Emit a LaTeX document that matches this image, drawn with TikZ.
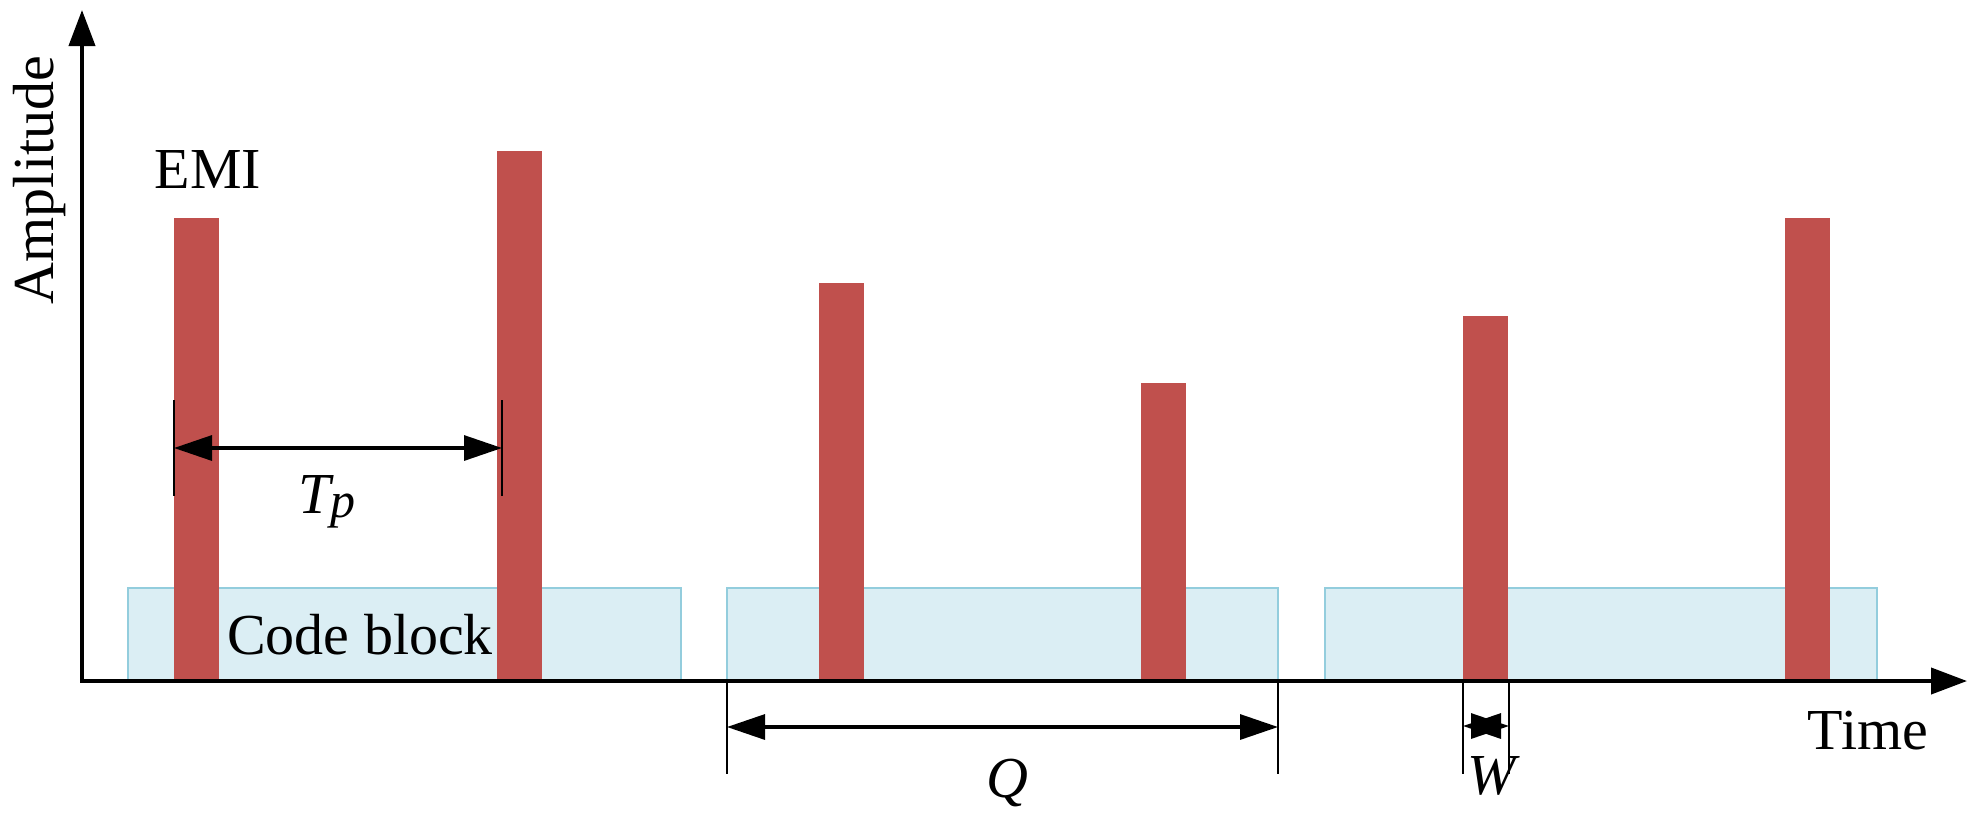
\documentclass[tikz,border=0pt]{standalone}
\usepackage{fontspec}
\setmainfont{Liberation Serif}
\usetikzlibrary{arrows.meta}
\definecolor{emired}{HTML}{C0504D}
\definecolor{blockfill}{HTML}{DBEEF4}
\definecolor{blockline}{HTML}{93CDDD}
\begin{document}
\begin{tikzpicture}[x=0.5pt,y=-0.5pt,
  lbl/.style={font=\fontsize{29}{29}\selectfont,inner sep=0pt},
  axis/.style={line width=2pt,{Triangle[length=18pt,width=13pt]}-{Triangle[length=18pt,width=13pt]}},
  codeblock/.style={fill=blockfill,draw=blockline,line width=1pt},
  emibar/.style={fill=emired},
  dimtick/.style={line width=0.8pt},
  dimarrow/.style={line width=1.6pt,{Triangle[length=19pt,width=12.5pt]}-{Triangle[length=19pt,width=12.5pt]}}]
\useasboundingbox (0,0) rectangle (1973,820);
% code blocks
\foreach \xa/\xb in {128/681,727/1278,1325/1877}
  \draw[codeblock] (\xa,681) rectangle (\xb,588);
% EMI pulses
\foreach \x/\top in {174/218,497/151,819/283,1141/383,1463/316,1785/218}
  \fill[emibar] (\x,681) rectangle (\x+45,\top);
% axes
\coordinate (origin) at (82,681);
\coordinate (xend) at (1967,681);
\coordinate (yend) at (82,10);
\draw[axis] (yend) -- (origin) -- (xend);
\node[lbl,rotate=90] (amp) at (40,180) {Amplitude};
\node[lbl] (time) at (1868,731) {Time};
\node[lbl] (emi) at (208,170) {EMI};
\node[lbl] (code) at (360,635) {Code block};
% T_p
\coordinate (tpL) at (174,448);
\coordinate (tpR) at (502,448);
\draw[dimtick] (174,400) -- (174,496) (502,400) -- (502,496);
\draw[dimarrow] (tpL) -- (tpR);
\node[lbl] (tp) at (327,502) {\textit{T\raisebox{-0.06em}{\fontsize{25}{25}\selectfont p}}};
% Q
\coordinate (qL) at (727,727);
\coordinate (qR) at (1278,727);
\draw[dimtick] (727,681) -- (727,774) (1278,681) -- (1278,774);
\draw[dimarrow] (qL) -- (qR);
\node[lbl] (q) at (1007,783) {\textit{Q}};
% W
\coordinate (wL) at (1463,726);
\coordinate (wR) at (1509,726);
\draw[dimtick] (1463,681) -- (1463,774) (1509,681) -- (1509,774);
\draw[dimarrow] (wL) -- (wR);
\node[lbl] (w) at (1494,776) {\textit{W}};
\end{tikzpicture}
\end{document}
